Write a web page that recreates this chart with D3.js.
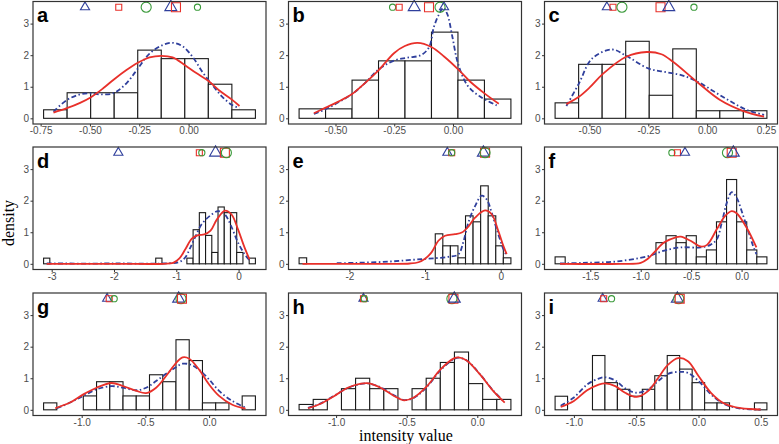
<!DOCTYPE html>
<html>
<head>
<meta charset="utf-8">
<script src="https://d3js.org/d3.v7.min.js"></script>
<style>
    body { margin: 0; background: #fff; }
</style>
</head>
<body>
<div id="space"></div>
<script>

// ---------- panel a ----------
var a_start = -0.735, a_bw = 0.1193;
var a_dens = [0.27, 0.81, 0.81, 0.81, 2.16, 1.89, 1.89, 1.08, 0.27];
var a_ticks = [-0.75, -0.5, -0.25, 0];
var a_red = [[-0.685,0.18],[-0.617,0.32],[-0.550,0.49],[-0.497,0.66],[-0.433,0.95],[-0.377,1.24],[-0.315,1.53],[-0.257,1.76],[-0.198,1.93],[-0.139,1.98],[-0.081,1.93],[-0.018,1.68],[0.037,1.44],[0.101,1.18],[0.154,0.89],[0.218,0.60],[0.258,0.39]];
var a_blue = [[-0.685,0.21],[-0.617,0.58],[-0.550,0.76],[-0.500,0.79],[-0.450,0.76],[-0.383,0.79],[-0.315,1.11],[-0.257,1.58],[-0.198,2.05],[-0.131,2.32],[-0.081,2.39],[-0.030,2.28],[0.020,1.95],[0.070,1.47],[0.121,1.05],[0.171,0.68],[0.221,0.42],[0.258,0.32]];
var a_marks = [["tri",-0.525,"s"],["sq",-0.354,"s"],["circ",-0.215,"l"],["tri",-0.09,"l"],["sq",-0.064,"l"],["circ",0.045,"s"]];

// ---------- panel b ----------
var b_start = -0.655, b_bw = 0.1127;
var b_dens = [0.30, 0.30, 1.21, 1.82, 1.82, 2.73, 1.21, 0.61];
var b_ticks = [-0.5, -0.25, 0];
var b_red = [[-0.592,0.16],[-0.544,0.33],[-0.490,0.52],[-0.431,0.76],[-0.377,1.10],[-0.316,1.53],[-0.25,2.07],[-0.205,2.29],[-0.151,2.39],[-0.092,2.26],[-0.038,1.96],[0.021,1.56],[0.075,1.15],[0.134,0.79],[0.195,0.46]];
var b_blue = [[-0.592,0.14],[-0.544,0.28],[-0.490,0.5],[-0.431,0.76],[-0.377,1.1],[-0.316,1.55],[-0.25,1.83],[-0.194,1.92],[-0.137,2.0],[-0.102,2.25],[-0.081,2.9],[-0.059,3.3],[-0.041,3.5],[-0.024,3.3],[-0.003,2.6],[0.021,1.75],[0.061,1.05],[0.117,0.68],[0.195,0.38]];
var b_marks = [["circ",-0.257,"s"],["sq",-0.229,"s"],["tri",-0.165,"l"],["sq",-0.102,"l"],["circ",-0.055,"l"],["tri",-0.038,"s"]];

// ---------- panel c ----------
var c_start = -0.646, c_bw = 0.1;
var c_dens = [0.49, 1.71, 1.71, 2.44, 0.73, 2.20, 0.24, 0.24, 0.24];
var c_ticks = [-0.5, -0.25, 0, 0.25];
var c_red = [[-0.598,0.45],[-0.545,0.68],[-0.5,0.97],[-0.444,1.40],[-0.344,1.95],[-0.257,2.10],[-0.194,2.03],[-0.145,1.79],[-0.044,1.16],[0.055,0.58],[0.154,0.23],[0.242,0.05]];
var c_blue = [[-0.598,0.39],[-0.545,1.1],[-0.489,1.89],[-0.404,2.18],[-0.348,2.0],[-0.25,1.58],[-0.180,1.47],[-0.110,1.37],[-0.040,1.16],[0.031,0.84],[0.101,0.53],[0.171,0.26],[0.242,0.11]];
var c_marks = [["tri",-0.426,"s"],["sq",-0.40,"s"],["circ",-0.362,"l"],["sq",-0.198,"l"],["tri",-0.163,"l"],["circ",-0.056,"s"]];

// ---------- panel d ----------
var d_start = -3.13, d_bw = 0.1;
var d_dens = [0.18,0,0,0,0,0,0,0,0,0, 0,0,0,0,0,0,0,0,0.18,0, 0,0,0,0.18,1.08,1.62,0.9,0.36,1.8,1.62, 1.62,0.36,0,0.18];
var d_ticks = [-3, -2, -1, 0];
var d_red = [[-3.08,0],[-2.0,0],[-1.2,0],[-1.05,0.03],[-0.95,0.17],[-0.85,0.48],[-0.75,0.80],[-0.65,0.91],[-0.55,0.93],[-0.45,1.05],[-0.35,1.40],[-0.222,1.68],[-0.116,1.57],[-0.011,1.1],[0.095,0.52],[0.175,0.14]];
var d_blue = [[-3.08,0.01],[-2.0,0.01],[-1.1,0.02],[-0.95,0.06],[-0.857,0.2],[-0.778,0.5],[-0.698,0.84],[-0.593,1.25],[-0.46,1.52],[-0.328,1.67],[-0.222,1.57],[-0.116,1.18],[-0.011,0.68],[0.095,0.31],[0.175,0.12]];
var d_marks = [["tri",-1.93,"s"],["sq",-0.63,"s"],["circ",-0.59,"s"],["tri",-0.37,"l"],["sq",-0.22,"l"],["circ",-0.196,"l"]];

// ---------- panel e ----------
var e_start = -2.665, e_bw = 0.1;
var e_dens = [0.19,0,0,0,0,0,0,0,0,0, 0,0,0,0,0,0,0,0,0.95,0.57, 0.57,0.19,1.52,1.33,2.47,1.52,0.57,0.19];
var e_ticks = [-2, -1, 0];
var e_red = [[-2.62,0],[-1.5,0],[-1.2,0.01],[-1.088,0.05],[-1.0,0.16],[-0.912,0.37],[-0.824,0.73],[-0.736,0.89],[-0.604,0.94],[-0.515,0.99],[-0.427,1.18],[-0.339,1.46],[-0.207,1.69],[-0.119,1.57],[-0.031,1.04],[0.035,0.57],[0.079,0.31]];
var e_blue = [[-2.167,0.02],[-1.925,0.03],[-1.485,0.07],[-1.044,0.15],[-0.692,0.22],[-0.559,0.3],[-0.493,0.7],[-0.427,1.31],[-0.339,1.83],[-0.251,2.16],[-0.185,2.04],[-0.119,1.62],[-0.053,1.1],[0.035,0.47],[0.079,0.26]];
var e_marks = [["tri",-0.705,"s"],["sq",-0.648,"s"],["circ",-0.648,"s"],["tri",-0.229,"l"],["sq",-0.207,"l"],["circ",-0.207,"l"]];

// ---------- panel f ----------
var f_start = -1.849, f_bw = 0.1;
var f_dens = [0.22,0,0,0,0,0,0,0,0,0, 0.67,0.89,0.67,0.89,0.22,0.44,1.33,2.67,1.33,0.44, 0.22];
var f_ticks = [-1.5, -1, -0.5, 0];
var f_red = [[-1.80,0],[-1.2,0],[-1.0,0.03],[-0.929,0.16],[-0.864,0.37],[-0.766,0.68],[-0.652,0.84],[-0.603,0.86],[-0.506,0.73],[-0.408,0.55],[-0.343,0.6],[-0.245,1.1],[-0.163,1.52],[-0.098,1.67],[-0.049,1.6],[0.049,1.15],[0.147,0.52]];
var f_blue = [[-1.80,0.01],[-1.582,0.03],[-1.255,0.07],[-0.929,0.24],[-0.766,0.42],[-0.603,0.52],[-0.408,0.52],[-0.31,0.6],[-0.245,0.78],[-0.196,1.31],[-0.147,1.93],[-0.098,2.27],[-0.049,2.09],[0.016,1.52],[0.065,1.05],[0.114,0.57],[0.147,0.31]];
var f_marks = [["circ",-0.691,"s"],["sq",-0.636,"s"],["tri",-0.561,"s"],["circ",-0.14,"l"],["sq",-0.098,"l"],["tri",-0.082,"l"]];

// ---------- panel g ----------
var g_start = -1.299, g_bw = 0.1039;
var g_dens = [0.22,0,0,0.44,0.89,0.89,0.44,0.44,1.11,0.89,2.22,1.56,0.22,0.22,0,0.44];
var g_ticks = [-1, -0.5, 0];
var g_red = [[-1.208,0.05],[-1.091,0.23],[-0.987,0.49],[-0.883,0.70],[-0.766,0.85],[-0.675,0.75],[-0.571,0.6],[-0.494,0.53],[-0.416,0.70],[-0.338,1.07],[-0.26,1.48],[-0.208,1.66],[-0.156,1.62],[-0.078,1.27],[0,0.8],[0.078,0.44],[0.182,0.16],[0.286,0.04]];
var g_blue = [[-1.195,0.05],[-1.091,0.23],[-0.987,0.44],[-0.883,0.65],[-0.766,0.75],[-0.675,0.70],[-0.571,0.62],[-0.494,0.7],[-0.416,0.91],[-0.338,1.14],[-0.26,1.35],[-0.208,1.46],[-0.143,1.43],[-0.078,1.27],[0,0.96],[0.078,0.6],[0.182,0.28],[0.286,0.07]];
var g_marks = [["tri",-0.8,"s"],["sq",-0.784,"s"],["circ",-0.745,"s"],["tri",-0.239,"l"],["circ",-0.221,"l"],["sq",-0.213,"l"]];

// ---------- panel h ----------
var h_start = -1.262, h_bw = 0.1;
var h_dens = [0.17,0.33,0,0.67,1.0,0.67,0.67,0,0.67,1.0,1.5,1.83,0.83,0.33,0.33];
var h_ticks = [-1, -0.5, 0];
var h_red = [[-1.199,0.05],[-1.105,0.2],[-1.012,0.44],[-0.918,0.70],[-0.824,0.83],[-0.766,0.84],[-0.684,0.70],[-0.59,0.44],[-0.52,0.30],[-0.45,0.39],[-0.356,0.75],[-0.262,1.27],[-0.169,1.62],[-0.133,1.66],[-0.075,1.56],[0.019,1.12],[0.112,0.6],[0.194,0.23]];
var h_blue = [[-1.199,0.06],[-1.105,0.21],[-1.012,0.45],[-0.918,0.69],[-0.824,0.82],[-0.766,0.83],[-0.684,0.71],[-0.59,0.46],[-0.52,0.31],[-0.45,0.38],[-0.356,0.73],[-0.262,1.25],[-0.169,1.6],[-0.133,1.65],[-0.075,1.56],[0.019,1.13],[0.112,0.61],[0.194,0.24]];
var h_marks = [["tri",-0.806,"s"],["sq",-0.806,"s"],["circ",-0.80,"s"],["circ",-0.18,"l"],["sq",-0.169,"l"],["tri",-0.163,"l"]];

// ---------- panel i ----------
var i_start = -1.151, i_bw = 0.1;
var i_dens = [0.43,0,0,1.72,0.86,0.65,0.43,0.65,1.08,1.72,1.29,0.86,0.22,0.22,0,0,0.22];
var i_ticks = [-1, -0.5, 0, 0.5];
var i_red = [[-1.106,0.09],[-1.0,0.28],[-0.894,0.62],[-0.801,0.80],[-0.748,0.84],[-0.668,0.75],[-0.589,0.54],[-0.496,0.41],[-0.403,0.60],[-0.324,1.01],[-0.244,1.43],[-0.164,1.64],[-0.085,1.54],[0,1.07],[0.1,0.54],[0.207,0.2],[0.34,0.05],[0.499,0.01]];
var i_blue = [[-1.106,0.13],[-1.0,0.39],[-0.894,0.80],[-0.801,0.99],[-0.748,1.03],[-0.668,0.93],[-0.589,0.68],[-0.496,0.54],[-0.403,0.65],[-0.324,0.91],[-0.244,1.14],[-0.164,1.2],[-0.085,1.17],[0,0.91],[0.1,0.49],[0.207,0.18],[0.34,0.04],[0.499,0.01]];
var i_marks = [["tri",-0.769,"s"],["sq",-0.761,"s"],["circ",-0.698,"s"],["tri",-0.170,"l"],["circ",-0.159,"l"],["sq",-0.151,"l"]];

var y_ticks = [0, 1, 2, 3];
var mark_y = 3.52;

var panels = [
    { label: "a", start: a_start, bw: a_bw, dens: a_dens, ticks: a_ticks, dec: 2, red: a_red, blue: a_blue, marks: a_marks },
    { label: "b", start: b_start, bw: b_bw, dens: b_dens, ticks: b_ticks, dec: 2, red: b_red, blue: b_blue, marks: b_marks },
    { label: "c", start: c_start, bw: c_bw, dens: c_dens, ticks: c_ticks, dec: 2, red: c_red, blue: c_blue, marks: c_marks },
    { label: "d", start: d_start, bw: d_bw, dens: d_dens, ticks: d_ticks, dec: 0, red: d_red, blue: d_blue, marks: d_marks },
    { label: "e", start: e_start, bw: e_bw, dens: e_dens, ticks: e_ticks, dec: 0, red: e_red, blue: e_blue, marks: e_marks },
    { label: "f", start: f_start, bw: f_bw, dens: f_dens, ticks: f_ticks, dec: 1, red: f_red, blue: f_blue, marks: f_marks },
    { label: "g", start: g_start, bw: g_bw, dens: g_dens, ticks: g_ticks, dec: 1, red: g_red, blue: g_blue, marks: g_marks },
    { label: "h", start: h_start, bw: h_bw, dens: h_dens, ticks: h_ticks, dec: 1, red: h_red, blue: h_blue, marks: h_marks },
    { label: "i", start: i_start, bw: i_bw, dens: i_dens, ticks: i_ticks, dec: 1, red: i_red, blue: i_blue, marks: i_marks }
];

var col_left = [33, 288.5, 544.5], row_top = [1.5, 147, 293];
var pw = 233, ph = 122.5;

var RED = "#e8302a", BLUE = "#2f3f9c", GREEN = "#3a9a3a", GREY = "#4d4d4d";
var sizes = { tri: { s: 36, l: 62 }, sq: { s: 36, l: 81 }, circ: { s: 30, l: 80 } };

var svg;

init();

function init() {
    svg = d3.select("#space").append("svg")
        .attr("xmlns", "http://www.w3.org/2000/svg")
        .attr("width", 779)
        .attr("height", 444);

    for (var i = 0; i < panels.length; i++) {
        drawPanel(panels[i], col_left[i % 3], row_top[Math.floor(i / 3)]);
    }

    //Axis titles
    svg.append("text")
        .attr("transform", "translate(14,223) rotate(-90)")
        .attr("text-anchor", "middle")
        .attr("font-family", "'Liberation Serif', 'Times New Roman', serif")
        .attr("font-size", 16)
        .attr("fill", "#000")
        .text("density");

    svg.append("text")
        .attr("x", 406)
        .attr("y", 440.5)
        .attr("text-anchor", "middle")
        .attr("font-family", "'Liberation Serif', 'Times New Roman', serif")
        .attr("font-size", 16)
        .attr("fill", "#000")
        .text("intensity value");
}

function fmt(v, dec) {
    return d3.format("." + dec + "f")(v).replace("\u2212", "-");
}

function drawPanel(p, left, top) {
    var n = p.dens.length;
    var span = n * p.bw;
    var lo = p.start - 0.05 * span, hi = p.start + span + 0.05 * span;

    var x = d3.scaleLinear().domain([lo, hi]).range([left, left + pw]);
    var y = d3.scaleLinear().domain([-0.18, 3.70]).range([top + ph, top]);

    var g = svg.append("g").attr("class", "panel_" + p.label);

    //Histogram bars
    var bins = p.dens.map(function (d, k) {
        return { x0: p.start + k * p.bw, x1: p.start + (k + 1) * p.bw, h: d };
    }).filter(function (b) { return b.h > 0; });

    g.append("g").selectAll("rect")
        .data(bins)
        .enter().append("rect")
        .attr("x", function (b) { return x(b.x0); })
        .attr("y", function (b) { return y(b.h); })
        .attr("width", function (b) { return x(b.x1) - x(b.x0); })
        .attr("height", function (b) { return y(0) - y(b.h); })
        .attr("fill", "#fff")
        .attr("stroke", "#1a1a1a")
        .attr("stroke-width", 1.1);

    //Density curves
    var line = d3.line()
        .x(function (d) { return x(d[0]); })
        .y(function (d) { return y(d[1]); })
        .curve(d3.curveCatmullRom.alpha(0.5));

    g.append("path")
        .attr("d", line(p.blue))
        .attr("fill", "none")
        .attr("stroke", BLUE)
        .attr("stroke-width", 1.8)
        .attr("stroke-dasharray", "5,2.5,1.5,2.5");

    g.append("path")
        .attr("d", line(p.red))
        .attr("fill", "none")
        .attr("stroke", RED)
        .attr("stroke-width", 1.8);

    //Markers
    for (var j = 0; j < p.marks.length; j++) {
        var m = p.marks[j];
        var type = m[0] == "tri" ? d3.symbolTriangle : (m[0] == "sq" ? d3.symbolSquare : d3.symbolCircle);
        var color = m[0] == "tri" ? BLUE : (m[0] == "sq" ? RED : GREEN);
        g.append("path")
            .attr("d", d3.symbol().type(type).size(sizes[m[0]][m[2]])())
            .attr("transform", "translate(" + x(m[1]) + "," + y(mark_y) + ")")
            .attr("fill", "none")
            .attr("stroke", color)
            .attr("stroke-width", 1.1);
    }

    //Panel border
    g.append("rect")
        .attr("x", left)
        .attr("y", top)
        .attr("width", pw)
        .attr("height", ph)
        .attr("fill", "none")
        .attr("stroke", "#333")
        .attr("stroke-width", 1.2);

    //Axes
    var xa = d3.axisBottom(x).tickValues(p.ticks).tickSize(2.5).tickPadding(0.5)
        .tickFormat(function (v) { return fmt(v, p.dec); });
    var ya = d3.axisLeft(y).tickValues(y_ticks).tickSize(2.5).tickPadding(1.5)
        .tickFormat(function (v) { return fmt(v, 0); });

    var gx = g.append("g").attr("transform", "translate(0," + (top + ph) + ")").call(xa);
    var gy = g.append("g").attr("transform", "translate(" + left + ",0)").call(ya);

    [gx, gy].forEach(function (ax) {
        ax.select(".domain").remove();
        ax.selectAll("line").attr("stroke", "#333");
        ax.selectAll("text")
            .attr("font-family", "'Liberation Sans', Arial, sans-serif")
            .attr("font-size", 10)
            .attr("fill", GREY);
    });

    //Panel letter
    g.append("text")
        .attr("x", left + 4)
        .attr("y", top + 20.5)
        .attr("font-family", "'Liberation Sans', Arial, sans-serif")
        .attr("font-weight", "bold")
        .attr("font-size", 20)
        .attr("fill", "#000")
        .text(p.label);
}
</script>
</body>
</html>
